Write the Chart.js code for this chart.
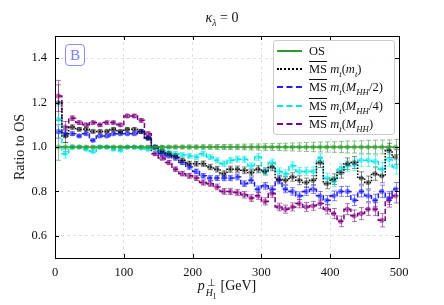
<!DOCTYPE html>
<html>
<head>
<meta charset="utf-8">
<script src="https://cdn.jsdelivr.net/npm/chart.js@4.4.1/dist/chart.umd.min.js"></script>
<style>
  body { margin: 0; background: #fff; }
  #wrap { position: relative; width: 444px; height: 305px; font-family: "Liberation Serif", serif; color: #111; }
  canvas { position: absolute; left: 0; top: 0; }
  .ov { position: absolute; white-space: nowrap; }
  #title { left: 0; width: 444px; top: 10px; text-align: center; font-size: 14px; }
  #xlab { left: 55px; width: 344px; top: 278px; text-align: center; font-size: 14px; }
  #ylab { left: 20px; top: 147px; font-size: 14px; transform: translate(-50%, -50%) rotate(-90deg); }
  #tag { left: 65px; top: 44px; width: 18px; height: 20px; border: 1px solid #8a8aff; border-radius: 4px; color: #7b7bff; font-size: 15px; text-align: center; line-height: 20px; background: #fff; }
  #legend { left: 273px; top: 40px; width: 120px; height: 93px; background: rgba(255,255,255,0.85); border: 1px solid #ccc; border-radius: 3px; font-size: 12.5px; }
  .ent { position: absolute; left: 0; height: 16px; line-height: 16px; }
  .smp { position: absolute; left: 3px; top: 7px; width: 25px; height: 0; }
  .txt { position: absolute; left: 35px; top: 0; }
  .ms { text-decoration: overline; }
  sub, sup { font-size: 70%; line-height: 0; }
  i { font-style: italic; }
  .ss { display: inline-flex; flex-direction: column; font-size: 70%; line-height: 1.05; vertical-align: 0.45em; margin-left: 1px; margin-right: 4px; }
  .ss sub { font-size: 75%; }
</style>
</head>
<body>
<div id="wrap">
  <canvas id="chart" width="444" height="305"></canvas>
  <div class="ov" id="title"><i>κ</i><sub><i>λ</i></sub> = 0</div>
  <div class="ov" id="xlab"><i>p</i><span class="ss"><span>⊥</span><span><i>H</i><sub>1</sub></span></span>[GeV]</div>
  <div class="ov" id="ylab">Ratio to OS</div>
  <div class="ov" id="tag">B</div>
  <div class="ov" id="legend">
    <div class="ent" style="top:2px"><span class="smp" style="border-top:2px solid #2e9a2e"></span><span class="txt">OS</span></div>
    <div class="ent" style="top:20px"><span class="smp" style="border-top:2px dotted #000"></span><span class="txt"><span class="ms">MS</span> <i>m</i><sub><i>t</i></sub>(<i>m</i><sub><i>t</i></sub>)</span></div>
    <div class="ent" style="top:38px"><span class="smp" style="border-top:2px dashed #1f1fff"></span><span class="txt"><span class="ms">MS</span> <i>m</i><sub><i>t</i></sub>(<i>M</i><sub><i>HH</i></sub>/2)</span></div>
    <div class="ent" style="top:57px"><span class="smp" style="border-top:2px dashed #00e5e5"></span><span class="txt"><span class="ms">MS</span> <i>m</i><sub><i>t</i></sub>(<i>M</i><sub><i>HH</i></sub>/4)</span></div>
    <div class="ent" style="top:75px"><span class="smp" style="border-top:2px dashed #800080"></span><span class="txt"><span class="ms">MS</span> <i>m</i><sub><i>t</i></sub>(<i>M</i><sub><i>HH</i></sub>)</span></div>
  </div>
</div>
<script>
// bin centres in GeV
var binCentres = [5,15,25,35,45,55,65,75,85,95,105,115,125,135,145,155,165,175,185,195,
  205,215,225,235,245,255,265,275,285,295,305,315,325,335,345,355,365,375,385,395,
  405,415,425,435,445,455,465,475,485,495];
var xTicks = [0, 100, 200, 300, 400, 500];
var yTicks = [0.6, 0.8, 1.0, 1.2, 1.4];

var osVals = [1,1,1,1,1,1,1,1,1,1, 1,1,1,1,1,1,1,1,1,1, 1,1,1,1,1,1,1,1,1,1,
  1,1,1,1,1,1,1,1,1,1, 1,1,1,1,1,1,1,1,1,1];
var osErr = [0.06,0.02,0.008,0.006,0.005,0.005,0.005,0.005,0.005,0.005,
  0.005,0.005,0.006,0.006,0.006,0.007,0.007,0.008,0.008,0.009,
  0.009,0.010,0.010,0.011,0.011,0.012,0.012,0.013,0.014,0.014,
  0.015,0.016,0.016,0.017,0.018,0.019,0.020,0.021,0.022,0.023,
  0.024,0.025,0.027,0.027,0.028,0.030,0.031,0.031,0.032,0.034];

var mtVals = [1.20,1.05,1.09,1.08,1.08,1.07,1.07,1.07,1.08,1.07,
  1.08,1.08,1.07,1.04,1.00,0.98,0.97,0.96,0.94,0.925,
  0.925,0.925,0.91,0.90,0.88,0.90,0.90,0.895,0.885,0.90,
  0.89,0.91,0.855,0.85,0.865,0.85,0.84,0.85,0.93,0.835,
  0.855,0.885,0.925,0.93,0.86,0.84,0.88,0.87,0.985,0.955];
var mtErr = [0.08,0.03,0.01,0.008,0.007,0.007,0.007,0.007,0.007,0.007,
  0.007,0.007,0.008,0.008,0.008,0.009,0.009,0.010,0.010,0.011,
  0.011,0.012,0.012,0.013,0.013,0.014,0.014,0.015,0.015,0.016,
  0.016,0.017,0.017,0.018,0.019,0.020,0.020,0.021,0.022,0.023,
  0.024,0.025,0.026,0.027,0.028,0.029,0.030,0.031,0.032,0.033];

var half = [1.07,1.06,1.06,1.05,1.06,1.03,1.05,1.05,1.06,1.06,
  1.06,1.06,1.07,1.04,1.00,0.97,0.96,0.95,0.93,0.91,
  0.89,0.87,0.86,0.86,0.86,0.86,0.865,0.835,0.85,0.81,
  0.825,0.81,0.85,0.81,0.80,0.78,0.80,0.81,0.78,0.76,
  0.78,0.80,0.80,0.76,0.80,0.78,0.76,0.80,0.77,0.81];
var halfErr = [0.03,0.015,0.008,0.006,0.006,0.006,0.006,0.006,0.006,0.006,
  0.006,0.006,0.007,0.007,0.007,0.008,0.008,0.009,0.009,0.010,
  0.010,0.010,0.011,0.011,0.012,0.012,0.013,0.013,0.014,0.014,
  0.015,0.015,0.016,0.016,0.017,0.018,0.018,0.019,0.020,0.021,
  0.022,0.022,0.023,0.024,0.025,0.026,0.027,0.028,0.029,0.030];

var quarter = [1.125,0.97,1.00,1.00,0.99,0.98,1.00,1.00,0.99,0.985,
  1.00,1.00,0.995,0.99,0.99,0.985,0.975,0.97,0.965,0.96,
  0.955,0.97,0.955,0.94,0.925,0.94,0.945,0.945,0.915,0.955,
  0.89,0.93,0.89,0.88,0.915,0.89,0.89,0.89,0.95,0.86,
  0.845,0.90,0.915,0.92,0.94,0.94,0.935,0.90,0.945,0.91];
var quarterErr = [0.06,0.02,0.008,0.006,0.006,0.006,0.006,0.006,0.006,0.006,
  0.006,0.006,0.007,0.007,0.007,0.008,0.008,0.009,0.009,0.010,
  0.010,0.011,0.011,0.012,0.012,0.013,0.013,0.014,0.014,0.015,
  0.015,0.016,0.016,0.017,0.018,0.018,0.019,0.020,0.021,0.022,
  0.023,0.024,0.025,0.026,0.027,0.028,0.029,0.030,0.031,0.032];

var full = [1.23,1.09,1.13,1.11,1.10,1.11,1.10,1.11,1.11,1.10,
  1.14,1.14,1.12,1.06,0.97,0.95,0.93,0.90,0.88,0.87,
  0.86,0.84,0.835,0.82,0.80,0.80,0.795,0.785,0.77,0.78,
  0.755,0.79,0.73,0.72,0.73,0.745,0.73,0.735,0.745,0.72,
  0.70,0.665,0.72,0.69,0.70,0.72,0.72,0.67,0.76,0.78];
var fullErr = [0.07,0.025,0.01,0.008,0.007,0.007,0.007,0.007,0.007,0.007,
  0.007,0.007,0.008,0.008,0.008,0.009,0.009,0.010,0.010,0.011,
  0.011,0.012,0.012,0.013,0.013,0.014,0.014,0.015,0.015,0.016,
  0.016,0.017,0.017,0.018,0.018,0.019,0.020,0.020,0.021,0.022,
  0.023,0.024,0.025,0.026,0.027,0.028,0.029,0.030,0.031,0.032];

function pts(vals) {
  return vals.map(function (v, i) { return { x: binCentres[i], y: v }; });
}

function series(vals, errs, color, fill, dash) {
  return {
    data: pts(vals),
    errs: errs,
    errColor: fill,
    borderColor: color,
    borderWidth: 1.5,
    borderDash: dash,
    stepped: 'middle',
    pointRadius: 2.6,
    pointBackgroundColor: fill,
    pointBorderWidth: 0,
    fill: false
  };
}

// error bars + frame with inward ticks
var extras = {
  id: 'extras',
  beforeDatasetsDraw: function (chart) {
    var ctx = chart.ctx, xs = chart.scales.x, ys = chart.scales.y;
    ctx.save();
    ctx.lineWidth = 1;
    chart.data.datasets.forEach(function (ds) {
      ctx.strokeStyle = ds.errColor;
      ds.data.forEach(function (p, i) {
        var px = Math.round(xs.getPixelForValue(p.x)) + 0.5;
        var y1 = ys.getPixelForValue(p.y - ds.errs[i]);
        var y2 = ys.getPixelForValue(p.y + ds.errs[i]);
        ctx.beginPath();
        ctx.moveTo(px, y1); ctx.lineTo(px, y2);
        ctx.moveTo(px - 2.5, y1); ctx.lineTo(px + 2.5, y1);
        ctx.moveTo(px - 2.5, y2); ctx.lineTo(px + 2.5, y2);
        ctx.stroke();
      });
    });
    ctx.restore();
  },
  afterDraw: function (chart) {
    var ctx = chart.ctx, a = chart.chartArea, xs = chart.scales.x, ys = chart.scales.y;
    ctx.save();
    ctx.strokeStyle = '#000';
    ctx.lineWidth = 1;
    ctx.strokeRect(Math.round(a.left) + 0.5, Math.round(a.top) + 0.5, Math.round(a.right - a.left), Math.round(a.bottom - a.top));
    ctx.beginPath();
    xTicks.forEach(function (t) {
      var px = Math.round(xs.getPixelForValue(t)) + 0.5;
      ctx.moveTo(px, a.bottom); ctx.lineTo(px, a.bottom - 4);
      ctx.moveTo(px, a.top); ctx.lineTo(px, a.top + 4);
    });
    yTicks.forEach(function (t) {
      var py = Math.round(ys.getPixelForValue(t)) + 0.5;
      ctx.moveTo(a.left, py); ctx.lineTo(a.left + 4, py);
      ctx.moveTo(a.right, py); ctx.lineTo(a.right - 4, py);
    });
    ctx.stroke();
    ctx.restore();
  }
};

var tickFont = { family: 'Liberation Serif', size: 12.5 };

new Chart(document.getElementById('chart').getContext('2d'), {
  type: 'line',
  data: {
    datasets: [
      series(osVals, osErr, '#2e9a2e', 'rgba(46,154,46,0.55)', []),
      series(mtVals, mtErr, '#000000', 'rgba(0,0,0,0.45)', [1.5, 1.5]),
      series(half, halfErr, '#1f1fff', 'rgba(31,31,255,0.55)', [5, 2.5]),
      series(quarter, quarterErr, '#00e5e5', 'rgba(0,229,229,0.55)', [5, 2.5]),
      series(full, fullErr, '#800080', 'rgba(128,0,128,0.55)', [5, 2.5])
    ]
  },
  options: {
    responsive: false,
    animation: false,
    layout: { padding: { top: 36, right: 45, left: 0, bottom: 0 } },
    plugins: { legend: { display: false }, tooltip: { enabled: false } },
    scales: {
      x: {
        type: 'linear', min: 0, max: 500,
        afterBuildTicks: function (s) { s.ticks = xTicks.map(function (v) { return { value: v }; }); },
        afterFit: function (s) { s.height = 47; },
        grid: { color: '#d9d9d9', drawTicks: false, lineWidth: 0.8 },
        border: { display: false, dash: [3, 3] },
        ticks: { font: tickFont, color: '#111', padding: 7, maxRotation: 0 }
      },
      y: {
        type: 'linear', min: 0.5, max: 1.5,
        afterBuildTicks: function (s) { s.ticks = yTicks.map(function (v) { return { value: v }; }); },
        afterFit: function (s) { s.width = 55; },
        grid: { color: '#d9d9d9', drawTicks: false, lineWidth: 0.8 },
        border: { display: false, dash: [3, 3] },
        ticks: { font: tickFont, color: '#111', padding: 8, callback: function (v) { return v.toFixed(1); } }
      }
    }
  },
  plugins: [extras]
});
</script>
</body>
</html>
